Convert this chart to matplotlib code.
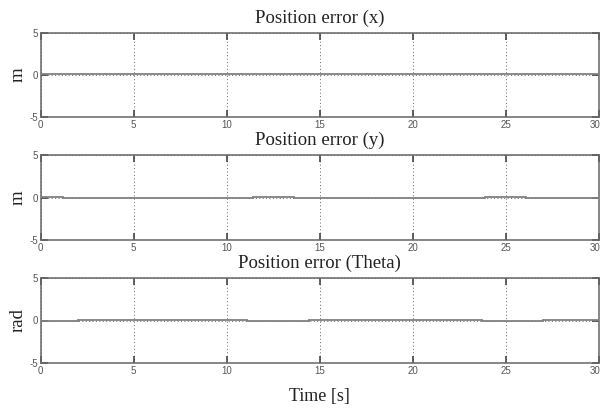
import matplotlib
matplotlib.use("Agg")
import matplotlib.pyplot as plt
from matplotlib.transforms import ScaledTranslation

plt.rcParams["axes.unicode_minus"] = False

# step breakpoints (s) and error levels for each signal
t_x = [0, 30]
err_x = [0.06]

t_y = [0, 1.2, 11.4, 13.6, 23.9, 26.1, 30]
err_y = [0.1, 0.0, 0.1, 0.0, 0.1, 0.0]

t_th = [0, 2.0, 11.1, 14.4, 23.7, 27.0, 30]
err_th = [0.0, 0.1, 0.0, 0.1, 0.0, 0.1]

titles = ["Position error (x)", "Position error (y)", "Position error (Theta)"]
ylabels = ["m", "m", "rad"]
xticks = [0, 5, 10, 15, 20, 25, 30]
yticks = [-5, 0, 5]

W, H = 602, 409
fig = plt.figure(figsize=(W / 100, H / 100), dpi=100)

# axes boxes in pixels: left, top, right, bottom
boxes = [(40.5, 33, 599, 117), (40.5, 155, 599, 240), (40.5, 278, 599, 363)]

series = [(t_x, err_x), (t_y, err_y), (t_th, err_th)]

for (l, t, r, b), (ts, vals), title, yl in zip(boxes, series, titles, ylabels):
    ax = fig.add_axes([l / W, 1 - b / H, (r - l) / W, (b - t) / H])
    ax.stairs(vals, ts, color="#808080", lw=1.3, baseline=None, zorder=3)
    ax.set_xlim(0, 30)
    ax.set_ylim(-5, 5)
    ax.set_xticks(xticks)
    ax.set_yticks(yticks)
    ax.grid(True, linestyle=(0, (1, 2.5)), color="#666666", lw=0.7, zorder=1)
    ax.tick_params(direction="in", length=5, width=1.2, color="#444444",
                   top=True, right=True, labelsize=7, labelcolor="#555555",
                   pad=2)
    for lab in ax.get_xticklabels() + ax.get_yticklabels():
        lab.set_family("Liberation Sans")
    # keep the last x label inside the figure
    last = ax.get_xticklabels()[-1]
    last.set_transform(last.get_transform()
                       + ScaledTranslation(-4 / 100, 0, fig.dpi_scale_trans))
    for s in ax.spines.values():
        s.set_color("#666666")
        s.set_linewidth(1.1)
    ax.set_title(title, family="Liberation Serif", fontsize=13.5, pad=7,
                 color="#222222")
    ax.set_ylabel(yl, family="Liberation Serif", fontsize=13.5, labelpad=2,
                  color="#222222")

fig.text((40.5 + 599) / 2 / W, 1 - 396 / H, "Time [s]", family="Liberation Serif",
         fontsize=13, ha="center", va="center", color="#222222")

fig.savefig("out.png", dpi=100)
